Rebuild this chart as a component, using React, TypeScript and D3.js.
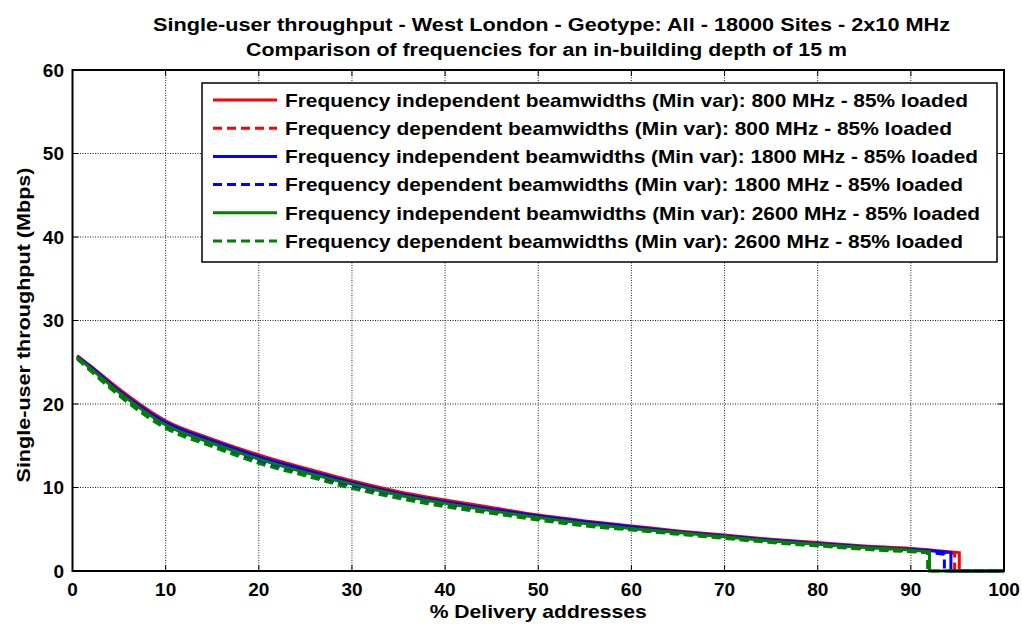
import React from "react";
import * as d3 from "d3";

// Percentage of delivery addresses at which each curve is sampled
const pctAddresses = [0.5, 2, 5, 10, 15, 20, 25, 30, 35, 40, 45, 50, 55, 60, 65, 70, 75, 80, 85, 90];

// Single-user throughput (Mbps) per series at the sample points above
const indep800 = [25.8, 24.5, 21.8, 18.0, 15.8, 13.9, 12.3, 10.8, 9.5, 8.5, 7.6, 6.7, 6.0, 5.4, 4.8, 4.3, 3.8, 3.4, 3.0, 2.7];
const dep800 = [25.6, 24.2, 21.3, 17.5, 15.2, 13.4, 11.8, 10.3, 9.1, 8.1, 7.2, 6.4, 5.7, 5.1, 4.6, 4.1, 3.6, 3.2, 2.8, 2.5];
const indep1800 = [25.7, 24.4, 21.6, 17.8, 15.6, 13.7, 12.1, 10.6, 9.3, 8.3, 7.4, 6.6, 5.9, 5.3, 4.7, 4.2, 3.7, 3.3, 2.9, 2.6];
const dep1800 = [25.5, 24.1, 21.2, 17.4, 15.1, 13.2, 11.6, 10.2, 9.0, 8.0, 7.1, 6.3, 5.6, 5.0, 4.5, 4.0, 3.5, 3.1, 2.7, 2.4];
const indep2600 = [25.6, 24.2, 21.4, 17.5, 15.3, 13.4, 11.8, 10.4, 9.1, 8.1, 7.2, 6.4, 5.7, 5.1, 4.6, 4.1, 3.6, 3.2, 2.8, 2.5];
const dep2600 = [25.4, 23.9, 21.0, 17.1, 14.9, 12.9, 11.4, 9.9, 8.7, 7.7, 6.9, 6.1, 5.4, 4.9, 4.4, 3.9, 3.4, 3.0, 2.6, 2.3];

// Coverage edge: last served percentage and throughput there, before dropping to zero
const edgePct = [95.2, 94.7, 94.3, 93.6, 92.0, 91.8];
const edgeVal = [2.2, 2.1, 2.2, 2.0, 2.3, 2.2];

const seriesNames = [
  "Frequency independent beamwidths (Min var): 800 MHz - 85% loaded",
  "Frequency dependent beamwidths (Min var): 800 MHz - 85% loaded",
  "Frequency independent beamwidths (Min var): 1800 MHz - 85% loaded",
  "Frequency dependent beamwidths (Min var): 1800 MHz - 85% loaded",
  "Frequency independent beamwidths (Min var): 2600 MHz - 85% loaded",
  "Frequency dependent beamwidths (Min var): 2600 MHz - 85% loaded",
];
const seriesValues = [indep800, dep800, indep1800, dep1800, indep2600, dep2600];
const seriesColors = ["#ff0000", "#ff0000", "#0000ff", "#0000ff", "#008000", "#008000"];
const seriesDashed = [false, true, false, true, false, true];
// rendered widths of the legend entries
const legendTextWidths = [683, 667, 693, 678, 695, 678];

const xTicks = [0, 10, 20, 30, 40, 50, 60, 70, 80, 90, 100];
const yTicks = [0, 10, 20, 30, 40, 50, 60];

const W = 1022;
const H = 624;
const M = { left: 72.5, right: 1004, top: 70, bottom: 571 };
const FONT = "'Liberation Sans', Arial, Helvetica, sans-serif";
const DASH = "9,5";

export default function App() {
  const x = d3.scaleLinear().domain([0, 100]).range([M.left, M.right]);
  const y = d3.scaleLinear().domain([0, 60]).range([M.bottom, M.top]);
  const smooth = d3
    .line<[number, number]>()
    .x((d) => x(d[0]))
    .y((d) => y(d[1]))
    .curve(d3.curveMonotoneX);

  const paths = seriesValues.map((vals, i) => {
    const pts: [number, number][] = pctAddresses.map((p, j) => [p, vals[j]]);
    pts.push([edgePct[i], edgeVal[i]]);
    const head = smooth(pts) || "";
    // vertical drop at the coverage edge, then flat at zero
    return `${head}L${x(edgePct[i])},${y(0)}L${x(100)},${y(0)}`;
  });

  const legX = 202;
  const legY = 83;
  const legW = 795;
  const legH = 179;
  const rowH = 28.2;

  return (
    <svg
      width={W}
      height={H}
      style={{ position: "absolute", left: 0, top: 0, background: "#fff" }}
      fontFamily={FONT}
      fontWeight="bold"
    >
      <rect x={0} y={0} width={W} height={H} fill="#fff" />
      {/* titles */}
      <text x={153} y={31} fontSize={18} textLength={797} lengthAdjust="spacingAndGlyphs">
        Single-user throughput - West London - Geotype: All - 18000 Sites - 2x10 MHz
      </text>
      <text x={246} y={56} fontSize={18} textLength={601} lengthAdjust="spacingAndGlyphs">
        Comparison of frequencies for an in-building depth of 15 m
      </text>

      {/* grid */}
      <g stroke="#222" strokeWidth={1} strokeDasharray="1,1.5">
        {xTicks.slice(1, -1).map((t) => (
          <line key={"gx" + t} x1={x(t)} x2={x(t)} y1={M.top} y2={M.bottom} />
        ))}
        {yTicks.slice(1, -1).map((t) => (
          <line key={"gy" + t} x1={M.left} x2={M.right} y1={y(t)} y2={y(t)} />
        ))}
      </g>

      {/* tick marks on all four sides */}
      <g stroke="#000" strokeWidth={1}>
        {xTicks.map((t) => (
          <g key={"tx" + t}>
            <line x1={x(t)} x2={x(t)} y1={M.bottom} y2={M.bottom - 6} />
            <line x1={x(t)} x2={x(t)} y1={M.top} y2={M.top + 6} />
          </g>
        ))}
        {yTicks.map((t) => (
          <g key={"ty" + t}>
            <line x1={M.left} x2={M.left + 6} y1={y(t)} y2={y(t)} />
            <line x1={M.right} x2={M.right - 6} y1={y(t)} y2={y(t)} />
          </g>
        ))}
      </g>

      {/* series */}
      <g fill="none" strokeWidth={3} strokeLinejoin="miter">
        {paths.map((d, i) => (
          <path
            key={"s" + i}
            d={d}
            stroke={seriesColors[i]}
            strokeDasharray={seriesDashed[i] ? DASH : undefined}
          />
        ))}
      </g>

      {/* axes box */}
      <rect
        x={M.left}
        y={M.top}
        width={M.right - M.left}
        height={M.bottom - M.top}
        fill="none"
        stroke="#000"
        strokeWidth={2}
      />

      {/* tick labels */}
      <g fontSize={19} fill="#000">
        {xTicks.map((t) => (
          <text key={"lx" + t} x={x(t)} y={596} textAnchor="middle">
            {t}
          </text>
        ))}
        {yTicks.map((t) => (
          <text key={"ly" + t} x={64} y={y(t)} dy="0.36em" textAnchor="end">
            {t}
          </text>
        ))}
      </g>

      {/* axis labels */}
      <text
        x={(M.left + M.right) / 2}
        y={618}
        textAnchor="middle"
        fontSize={19}
        textLength={217}
        lengthAdjust="spacingAndGlyphs"
      >
        % Delivery addresses
      </text>
      <text
        transform={`translate(30, 325) rotate(-90)`}
        textAnchor="middle"
        fontSize={19}
        textLength={315}
        lengthAdjust="spacingAndGlyphs"
      >
        Single-user throughput (Mbps)
      </text>

      {/* legend */}
      <rect x={legX} y={legY} width={legW} height={legH} fill="#fff" stroke="#000" strokeWidth={1.5} />
      {seriesNames.map((name, i) => {
        const cy = legY + 17 + i * rowH;
        return (
          <g key={"lg" + i}>
            <line
              x1={213}
              x2={277}
              y1={cy}
              y2={cy}
              stroke={seriesColors[i]}
              strokeWidth={3}
              strokeDasharray={seriesDashed[i] ? DASH : undefined}
            />
            <text
              x={285}
              y={cy}
              dy="0.36em"
              fontSize={19}
              textLength={legendTextWidths[i]}
              lengthAdjust="spacingAndGlyphs"
            >
              {name}
            </text>
          </g>
        );
      })}
    </svg>
  );
}
